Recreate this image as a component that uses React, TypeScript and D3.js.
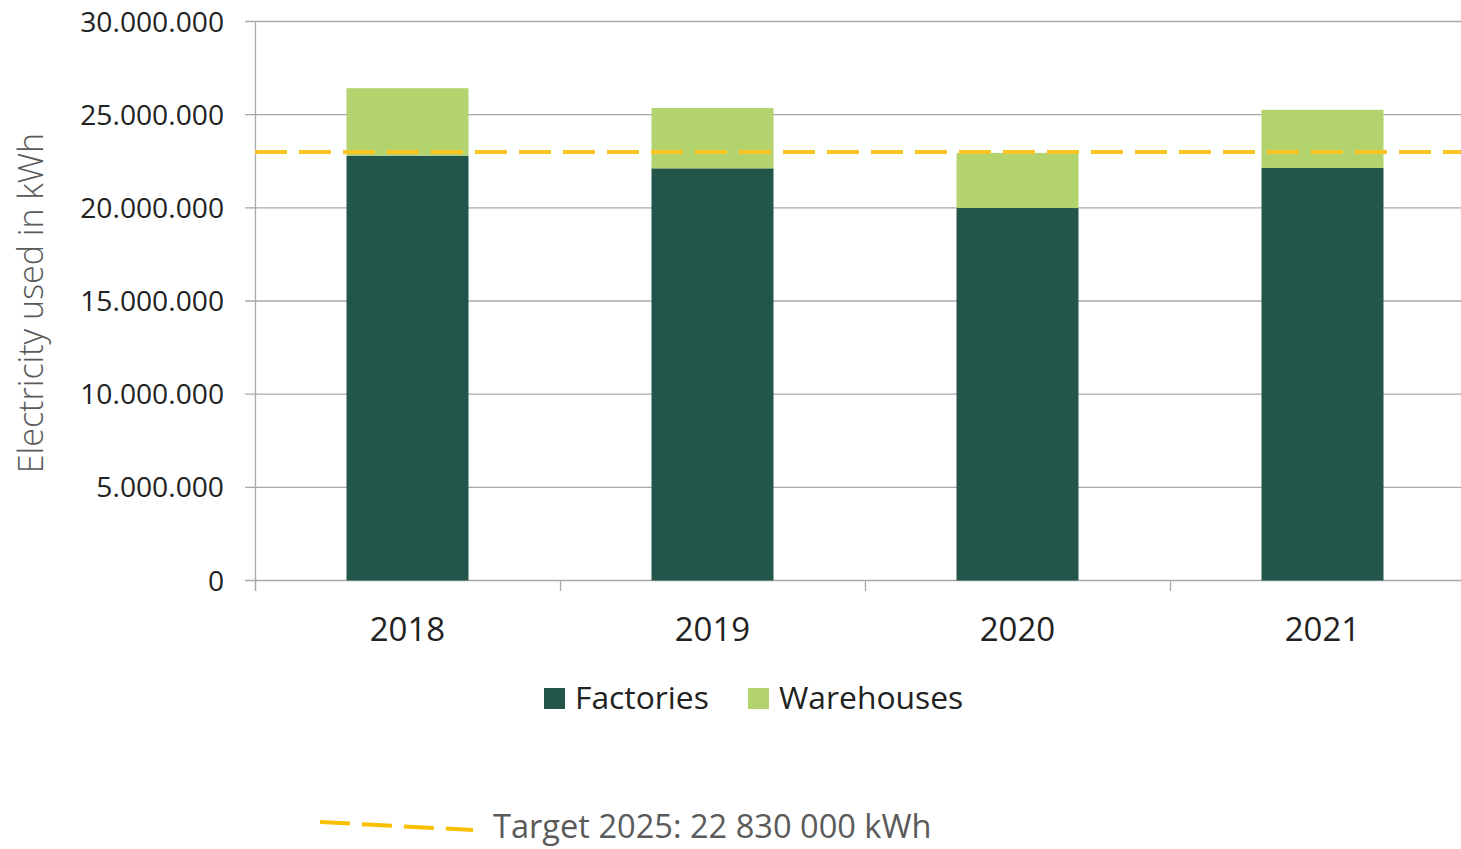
import React from "react";
import * as d3 from "d3";

const years = ["2018", "2019", "2020", "2021"];
const factories = [22800000, 22120000, 19990000, 22140000];
const warehouses = [3620000, 3240000, 2960000, 3120000];
const yTicks = [0, 5000000, 10000000, 15000000, 20000000, 25000000, 30000000];
const targetLineValue = 23000000;
const targetLabel = "Target 2025: 22 830 000 kWh";
const seriesNames = ["Factories", "Warehouses"];
const colors = ["#22564a", "#b3d36f"];

const W = 1461;
const H = 849;
const FONT = "'Open Sans', sans-serif";

export default function App() {
  const x = d3
    .scaleBand<string>()
    .domain(years)
    .range([255, 1475])
    .paddingInner(0.6)
    .paddingOuter(0.3);
  const y = d3.scaleLinear().domain([0, 30000000]).range([580.5, 21.5]);
  const fmt = (v: number) => d3.format(",")(v).replace(/,/g, ".");
  const step = x.step();
  const boundaries = years.map((_, i) => 255 + i * step);

  const stackData = years.map((yr, i) => ({ year: yr, Factories: factories[i], Warehouses: warehouses[i] }));
  const stacked = d3.stack<any>().keys(seriesNames)(stackData);

  return (
    <svg
      width={W}
      height={H}
      style={{ position: "absolute", left: 0, top: 0, background: "#fff" }}
      fontFamily={FONT}
    >
      {yTicks.map((t) => (
        <line key={t} x1={245} x2={W} y1={y(t)} y2={y(t)} stroke="#a9a9a9" strokeWidth={1.3} />
      ))}
      <line x1={255.5} x2={255.5} y1={y(30000000)} y2={591} stroke="#a9a9a9" strokeWidth={1.3} />
      {boundaries.map((b, i) => (
        <line key={i} x1={b + 0.5} x2={b + 0.5} y1={580.5} y2={591} stroke="#a9a9a9" strokeWidth={1.3} />
      ))}
      {stacked.map((s, si) =>
        s.map((d: any, i: number) => (
          <rect
            key={si + "-" + i}
            x={x(years[i])}
            y={y(d[1])}
            width={x.bandwidth()}
            height={y(d[0]) - y(d[1])}
            fill={colors[si]}
          />
        ))
      )}
      <line
        x1={255}
        x2={W}
        y1={y(targetLineValue)}
        y2={y(targetLineValue)}
        stroke="#f9c623"
        strokeWidth={4}
        strokeDasharray="32 12"
      />
      {yTicks.map((t) => (
        <text key={t} x={224} y={y(t)} dy="0.36em" textAnchor="end" fontSize={28.2} fill="#222">
          {fmt(t)}
        </text>
      ))}
      {years.map((yr) => (
        <text
          key={yr}
          x={(x(yr) as number) + x.bandwidth() / 2}
          y={640.5}
          textAnchor="middle"
          fontSize={33}
          fill="#222"
        >
          {yr}
        </text>
      ))}
      <text
        transform="translate(43,303) rotate(-90)"
        textAnchor="middle"
        fontSize={34}
        fontWeight={300}
        fill="#5a5a5a"
      >
        Electricity used in kWh
      </text>
      <rect x={544} y={688} width={21} height={21} fill={colors[0]} />
      <text x={575} y={709} fontSize={31.8} fill="#222">
        {seriesNames[0]}
      </text>
      <rect x={748} y={688} width={21} height={21} fill={colors[1]} />
      <text x={779} y={709} fontSize={31.8} fill="#222">
        {seriesNames[1]}
      </text>
      <line x1={320} y1={822} x2={473} y2={830} stroke="#f9c000" strokeWidth={4} strokeDasharray="30 12" />
      <text x={493} y={838} fontSize={32.6} fill="#5a5a5a">
        {targetLabel}
      </text>
    </svg>
  );
}
